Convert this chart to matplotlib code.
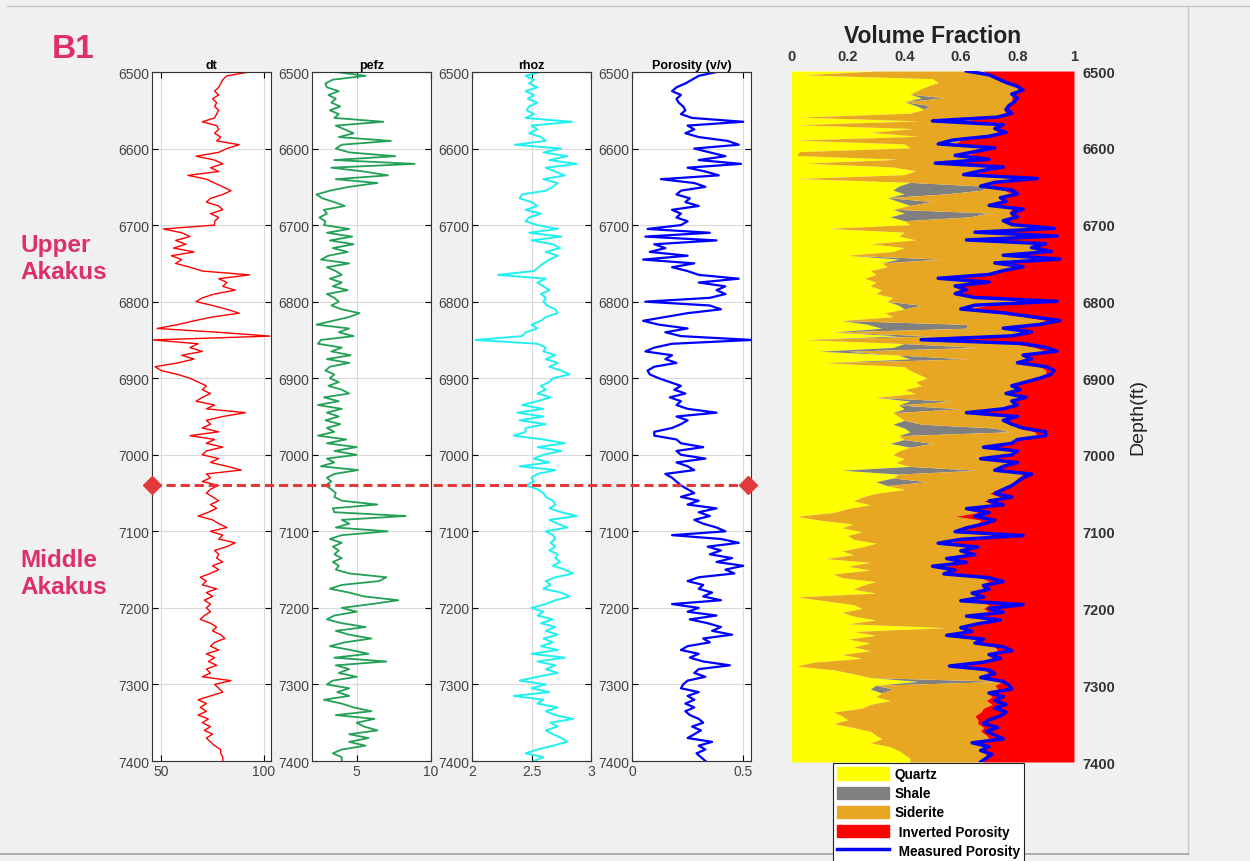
import numpy as np
import matplotlib.pyplot as plt
from matplotlib.lines import Line2D
from matplotlib.patches import Patch

plt.rcParams['font.family'] = ['Liberation Sans', 'DejaVu Sans']

# depth samples (ft), 5 ft step
depth = np.arange(6500, 7401, 5)

dt = [93, 82, 80, 79, 78, 76, 78, 75, 77, 76,
      78, 77, 76, 70, 77, 78, 76, 79, 77, 88,
      82, 78, 67, 76, 80, 74, 78, 63, 72, 76,
      80, 84, 80, 74, 72, 78, 80, 74, 78, 76,
      76, 51, 60, 64, 57, 62, 56, 66, 55, 60,
      57, 64, 70, 93, 78, 82, 80, 86, 76, 70,
      67, 75, 82, 88, 75, 66, 58, 48, 78, 103,
      46, 68, 64, 70, 60, 66, 58, 47, 50, 58,
      64, 68, 72, 70, 74, 70, 67, 76, 72, 91,
      80, 72, 74, 70, 78, 64, 76, 72, 80, 72,
      70, 78, 74, 82, 89, 72, 74, 70, 78, 74,
      72, 75, 78, 74, 77, 73, 68, 75, 78, 82,
      74, 80, 78, 86, 82, 76, 78, 77, 80, 75,
      78, 74, 69, 72, 70, 77, 72, 75, 71, 74,
      72, 74, 71, 69, 74, 77, 75, 79, 81, 76,
      74, 78, 72, 76, 73, 77, 72, 74, 70, 84,
      76, 78, 80, 74, 68, 72, 69, 72, 68, 73,
      70, 74, 71, 75, 72, 74, 76, 79, 79, 80,
      80]

pefz = [3.6, 5.6, 3.4, 2.9, 3.0, 3.8, 3.1, 3.6, 3.3, 3.9,
        3.2, 3.8, 3.5, 6.8, 3.6, 4.2, 4.8, 3.8, 7.3, 4.0,
        3.6, 4.5, 7.6, 3.5, 8.9, 3.3, 5.5, 7.1, 3.6, 6.4,
        4.5, 3.2, 2.3, 2.7, 3.5, 4.2, 2.8, 3.0, 2.5, 2.9,
        2.8, 4.5, 3.0, 4.7, 3.2, 4.8, 3.4, 4.4, 3.1, 2.6,
        4.5, 3.0, 3.6, 4.0, 3.2, 4.0, 3.4, 4.4, 3.0, 3.5,
        3.8, 3.3, 4.0, 5.2, 4.5, 3.4, 2.3, 4.5, 3.8, 4.8,
        2.6, 2.4, 4.0, 3.3, 4.6, 3.0, 4.5, 3.2, 2.9, 3.5,
        3.2, 3.8, 3.1, 4.0, 4.5, 2.8, 3.8, 2.4, 4.0, 3.0,
        3.8, 2.9, 3.9, 3.0, 3.5, 2.4, 4.3, 3.0, 5.0, 3.5,
        5.0, 3.0, 3.5, 2.6, 5.1, 3.5, 3.0, 3.3, 2.9, 3.3,
        3.6, 3.5, 4.0, 6.4, 3.4, 3.5, 8.3, 4.0, 4.5, 3.6,
        7.1, 4.0, 3.2, 4.0, 3.4, 3.8, 3.5, 4.0, 3.4, 3.8,
        3.6, 4.5, 7.0, 6.5, 4.0, 3.2, 4.5, 5.5, 7.8, 6.0,
        4.0, 5.0, 3.5, 3.0, 4.0, 5.6, 3.6, 4.5, 6.0, 4.2,
        3.2, 4.6, 5.8, 3.5, 7.0, 3.6, 4.5, 3.8, 5.0, 3.4,
        3.0, 4.5, 3.7, 4.5, 2.8, 4.0, 4.8, 6.0, 3.6, 6.2,
        5.0, 5.5, 6.4, 4.5, 5.8, 4.5, 5.6, 4.0, 3.4, 4.0,
        4.0]

rhoz = [2.57, 2.45, 2.52, 2.48, 2.55, 2.45, 2.52, 2.47, 2.55, 2.48,
        2.46, 2.52, 2.45, 2.84, 2.50, 2.55, 2.48, 2.58, 2.62, 2.36,
        2.75, 2.60, 2.80, 2.65, 2.88, 2.62, 2.70, 2.78, 2.60, 2.72,
        2.68, 2.62, 2.42, 2.40, 2.50, 2.55, 2.45, 2.58, 2.48, 2.45,
        2.55, 2.72, 2.48, 2.75, 2.50, 2.68, 2.74, 2.62, 2.72, 2.65,
        2.60, 2.56, 2.52, 2.22, 2.62, 2.55, 2.60, 2.65, 2.58, 2.62,
        2.60, 2.63, 2.70, 2.72, 2.62, 2.58, 2.50, 2.55, 2.45, 2.42,
        2.03, 2.55, 2.62, 2.60, 2.70, 2.62, 2.72, 2.65, 2.75, 2.82,
        2.68, 2.65, 2.58, 2.62, 2.55, 2.66, 2.55, 2.42, 2.60, 2.38,
        2.60, 2.40, 2.62, 2.45, 2.45, 2.35, 2.60, 2.78, 2.55, 2.75,
        2.60, 2.52, 2.65, 2.40, 2.70, 2.55, 2.50, 2.52, 2.45, 2.55,
        2.60, 2.62, 2.68, 2.70, 2.65, 2.75, 2.88, 2.65, 2.72, 2.80,
        2.62, 2.68, 2.70, 2.66, 2.70, 2.65, 2.72, 2.70, 2.74, 2.68,
        2.78, 2.85, 2.70, 2.62, 2.66, 2.60, 2.75, 2.82, 2.70, 2.62,
        2.50, 2.60, 2.55, 2.68, 2.58, 2.70, 2.62, 2.72, 2.60, 2.68,
        2.58, 2.72, 2.50, 2.78, 2.55, 2.70, 2.62, 2.72, 2.55, 2.40,
        2.62, 2.50, 2.65, 2.35, 2.60, 2.55, 2.72, 2.62, 2.70, 2.85,
        2.66, 2.72, 2.62, 2.68, 2.75, 2.80, 2.68, 2.55, 2.45, 2.60,
        2.52]

porosity = [0.38, 0.30, 0.27, 0.24, 0.20, 0.18, 0.22, 0.20, 0.21, 0.23,
            0.24, 0.22, 0.27, 0.50, 0.25, 0.28, 0.24, 0.30, 0.43, 0.48,
            0.28, 0.35, 0.42, 0.30, 0.49, 0.25, 0.33, 0.39, 0.13, 0.28,
            0.33, 0.22, 0.20, 0.26, 0.24, 0.30, 0.18, 0.22, 0.20, 0.25,
            0.22, 0.07, 0.35, 0.06, 0.38, 0.10, 0.15, 0.08, 0.25, 0.05,
            0.28, 0.18, 0.25, 0.30, 0.48, 0.30, 0.42, 0.38, 0.42, 0.35,
            0.06, 0.35, 0.40, 0.25, 0.15, 0.05, 0.12, 0.25, 0.15, 0.22,
            0.54, 0.18, 0.10, 0.06, 0.18, 0.15, 0.20, 0.10, 0.07, 0.08,
            0.12, 0.17, 0.22, 0.19, 0.24, 0.17, 0.22, 0.20, 0.25, 0.38,
            0.20, 0.25, 0.22, 0.18, 0.10, 0.10, 0.20, 0.22, 0.32, 0.20,
            0.22, 0.33, 0.20, 0.25, 0.28, 0.15, 0.18, 0.20, 0.22, 0.25,
            0.28, 0.22, 0.30, 0.25, 0.38, 0.30, 0.35, 0.28, 0.32, 0.38,
            0.42, 0.18, 0.40, 0.48, 0.34, 0.40, 0.35, 0.45, 0.38, 0.50,
            0.42, 0.46, 0.30, 0.25, 0.32, 0.30, 0.36, 0.32, 0.40, 0.18,
            0.30, 0.25, 0.38, 0.26, 0.34, 0.40, 0.36, 0.45, 0.32, 0.35,
            0.25, 0.22, 0.30, 0.26, 0.32, 0.44, 0.30, 0.28, 0.33, 0.25,
            0.23, 0.22, 0.30, 0.25, 0.28, 0.24, 0.28, 0.24, 0.26, 0.30,
            0.32, 0.27, 0.31, 0.28, 0.25, 0.36, 0.30, 0.33, 0.29, 0.31,
            0.33]

# mineral volume fractions (inverted)
quartz = [0.30, 0.04, 0.50, 0.52, 0.48, 0.45, 0.42, 0.46, 0.40, 0.44,
          0.47, 0.42, 0.03, 0.45, 0.02, 0.43, 0.28, 0.45, 0.02, 0.40,
          0.42, 0.03, 0.02, 0.38, 0.05, 0.36, 0.44, 0.40, 0.02, 0.42,
          0.38, 0.36, 0.40, 0.34, 0.38, 0.42, 0.36, 0.40, 0.35, 0.40,
          0.42, 0.13, 0.40, 0.38, 0.44, 0.28, 0.40, 0.36, 0.20, 0.38,
          0.32, 0.34, 0.28, 0.30, 0.26, 0.30, 0.28, 0.32, 0.30, 0.36,
          0.34, 0.38, 0.40, 0.33, 0.36, 0.18, 0.27, 0.32, 0.15, 0.38,
          0.05, 0.40, 0.36, 0.10, 0.38, 0.42, 0.12, 0.40, 0.42, 0.45,
          0.48, 0.44, 0.46, 0.40, 0.44, 0.30, 0.42, 0.38, 0.40, 0.36,
          0.38, 0.40, 0.36, 0.40, 0.42, 0.38, 0.40, 0.35, 0.42, 0.38,
          0.36, 0.40, 0.37, 0.42, 0.18, 0.38, 0.36, 0.30, 0.34, 0.40,
          0.30, 0.25, 0.22, 0.28, 0.20, 0.15, 0.02, 0.10, 0.22, 0.18,
          0.25, 0.20, 0.22, 0.30, 0.25, 0.18, 0.22, 0.12, 0.28, 0.20,
          0.28, 0.15, 0.18, 0.30, 0.25, 0.22, 0.30, 0.02, 0.12, 0.22,
          0.25, 0.18, 0.22, 0.30, 0.20, 0.55, 0.22, 0.30, 0.20, 0.28,
          0.22, 0.28, 0.18, 0.25, 0.08, 0.02, 0.15, 0.22, 0.28, 0.45,
          0.30, 0.28, 0.32, 0.30, 0.35, 0.28, 0.25, 0.15, 0.18, 0.20,
          0.15, 0.22, 0.28, 0.30, 0.32, 0.28, 0.35, 0.38, 0.40, 0.42,
          0.42]

shale = [0, 0, 0, 0, 0, 0, 0, 0.08, 0, 0.05,
         0, 0, 0, 0, 0, 0, 0, 0, 0, 0,
         0, 0, 0, 0, 0, 0, 0, 0, 0, 0,
         0.30, 0.32, 0.15, 0, 0.12, 0, 0, 0.30, 0.28, 0,
         0, 0, 0, 0, 0, 0, 0, 0, 0, 0.15,
         0, 0, 0, 0, 0, 0, 0, 0, 0, 0,
         0, 0.08, 0, 0, 0, 0, 0.35, 0.30, 0, 0.12,
         0, 0, 0.30, 0.10, 0, 0.20, 0, 0, 0, 0,
         0, 0, 0, 0, 0, 0, 0.15, 0, 0.20, 0,
         0, 0, 0.10, 0.32, 0.35, 0, 0, 0.15, 0, 0,
         0, 0, 0, 0, 0.48, 0, 0, 0.18, 0, 0,
         0, 0, 0, 0, 0, 0, 0, 0, 0, 0,
         0, 0, 0, 0, 0, 0, 0, 0, 0, 0,
         0, 0, 0, 0, 0, 0, 0, 0, 0, 0,
         0, 0, 0, 0, 0, 0, 0, 0, 0, 0,
         0, 0, 0, 0, 0, 0, 0, 0, 0, 0.30,
         0, 0.08, 0, 0, 0, 0, 0, 0, 0, 0,
         0, 0, 0, 0, 0, 0, 0, 0, 0, 0,
         0]

inv_porosity = [0.32, 0.30, 0.27, 0.22, 0.20, 0.20, 0.22, 0.22, 0.22, 0.24,
                0.25, 0.24, 0.27, 0.40, 0.26, 0.28, 0.27, 0.32, 0.40, 0.42,
                0.30, 0.34, 0.38, 0.32, 0.42, 0.28, 0.32, 0.36, 0.20, 0.28,
                0.30, 0.25, 0.22, 0.25, 0.25, 0.28, 0.22, 0.23, 0.22, 0.24,
                0.22, 0.10, 0.30, 0.10, 0.32, 0.12, 0.16, 0.10, 0.22, 0.06,
                0.26, 0.20, 0.26, 0.30, 0.42, 0.32, 0.40, 0.38, 0.40, 0.35,
                0.12, 0.30, 0.38, 0.27, 0.18, 0.10, 0.15, 0.25, 0.18, 0.24,
                0.46, 0.22, 0.14, 0.10, 0.18, 0.17, 0.20, 0.12, 0.10, 0.10,
                0.14, 0.18, 0.22, 0.20, 0.24, 0.19, 0.22, 0.21, 0.25, 0.34,
                0.22, 0.25, 0.22, 0.20, 0.14, 0.13, 0.20, 0.22, 0.30, 0.21,
                0.22, 0.30, 0.22, 0.25, 0.27, 0.18, 0.20, 0.21, 0.23, 0.26,
                0.30, 0.26, 0.32, 0.28, 0.38, 0.34, 0.42, 0.33, 0.34, 0.38,
                0.40, 0.25, 0.40, 0.44, 0.36, 0.40, 0.37, 0.43, 0.38, 0.46,
                0.42, 0.44, 0.33, 0.30, 0.33, 0.32, 0.36, 0.34, 0.38, 0.30,
                0.32, 0.30, 0.36, 0.30, 0.34, 0.38, 0.36, 0.42, 0.33, 0.35,
                0.28, 0.27, 0.31, 0.29, 0.32, 0.40, 0.32, 0.30, 0.33, 0.28,
                0.28, 0.27, 0.31, 0.29, 0.31, 0.29, 0.32, 0.33, 0.35, 0.34,
                0.34, 0.32, 0.33, 0.31, 0.30, 0.34, 0.32, 0.33, 0.31, 0.32,
                0.32]

depth_ticks = list(range(6500, 7401, 100))
boundary_depth = 7040

W, H = 1250, 862
fig = plt.figure(figsize=(W / 100, H / 100), dpi=100, facecolor='#f0f0f0')

tracks = [
    (dt, 'dt', '#ff0000', 1.0, (45.5, 103.5), [50, 100], ['50', '100'], 152),
    (pefz, 'pefz', '#22a055', 1.3, (2, 10), [5, 10], ['5', '10'], 312),
    (rhoz, 'rhoz', '#22f0f0', 1.4, (2, 3), [2, 2.5, 3], ['2', '2.5', '3'], 472),
    (porosity, 'Porosity (v/v)', '#0000ff', 1.6, (0, 0.535), [0, 0.5], ['0', '0.5'], 632),
]

for vals, name, col, lw, xl, xt, xtl, left in tracks:
    ax = fig.add_axes([left / W, 1 - 762 / H, 119 / W, 689 / H])
    ax.plot(vals, depth, color=col, lw=lw)
    ax.set_xlim(*xl)
    ax.set_ylim(7400, 6500)
    ax.set_xticks(xt)
    ax.set_xticklabels(xtl)
    ax.set_yticks(depth_ticks)
    ax.grid(color='#dadada', lw=0.8)
    ax.set_axisbelow(True)
    ax.tick_params(direction='in', top=True, right=True, length=4, width=0.8,
                   labelsize=10, labelcolor='#444444', pad=2)
    for s in ax.spines.values():
        s.set_color('#333333')
        s.set_linewidth(0.8)
    ax.set_title(name, fontsize=9, fontweight='bold', pad=3)

# volume fraction track
axv = fig.add_axes([791 / W, 1 - 763 / H, 283 / W, 691 / H])
q = np.array(quartz)
sh = np.array(shale)
inv = np.array(inv_porosity)
b1 = q
b2 = q + sh
b3 = np.maximum(b2, 1 - inv)
axv.fill_betweenx(depth, 0, b1, color='#ffff00', lw=0)
axv.fill_betweenx(depth, b1, b2, color='#808080', lw=0)
axv.fill_betweenx(depth, b2, b3, color='#e8a723', lw=0)
axv.fill_betweenx(depth, b3, 1, color='#ff0000', lw=0)
axv.plot(1 - np.array(porosity), depth, color='#0000ff', lw=2.5)
axv.set_xlim(0, 1)
axv.set_ylim(7400, 6500)
axv.xaxis.tick_top()
axv.yaxis.tick_right()
axv.set_xticks([0, 0.2, 0.4, 0.6, 0.8, 1])
axv.set_xticklabels(['0', '0.2', '0.4', '0.6', '0.8', '1'])
axv.set_yticks(depth_ticks)
axv.tick_params(length=0, labelsize=10.5, labelcolor='#333333', pad=6)
for lab in axv.get_xticklabels() + axv.get_yticklabels():
    lab.set_fontweight('bold')
for s in axv.spines.values():
    s.set_visible(False)
axv.set_title('Volume Fraction', fontsize=16.5, fontweight='bold', color='#222222', pad=21)
axv.yaxis.set_label_position('right')
axv.set_ylabel('Depth(ft)', fontsize=14, color='#222222', labelpad=10)

handles = [Patch(color='#ffff00', label='Quartz'),
           Patch(color='#808080', label='Shale'),
           Patch(color='#e8a723', label='Siderite'),
           Patch(color='#ff0000', label=' Inverted Porosity'),
           Line2D([], [], color='#0000ff', lw=2.5, label=' Measured Porosity')]
leg = fig.legend(handles=handles, loc='upper left', bbox_to_anchor=(833 / W, 1 - 764 / H),
                 prop={'size': 9.8, 'weight': 'bold'}, frameon=True, fancybox=False,
                 edgecolor='#222222', framealpha=1, handlelength=3.8, handleheight=1.0,
                 labelspacing=0.38, borderpad=0.3, handletextpad=0.45, borderaxespad=0)
leg.get_frame().set_linewidth(0.8)

# zone boundary
yb = 1 - (73 + (boundary_depth - 6500) * 689 / 900) / H
fig.add_artist(Line2D([152 / W, 748 / W], [yb, yb], transform=fig.transFigure,
                      color='#e23a3a', lw=2.2, ls=(0, (3, 1.6)), marker='D',
                      markersize=9, markerfacecolor='#e23a3a', markeredgecolor='#e23a3a'))

# labels
pink = '#dd2f68'
fig.text(52 / W, 1 - 50 / H, 'B1', color=pink, fontsize=24, fontweight='bold', va='center')
fig.text(20 / W, 1 - 259 / H, 'Upper\nAkakus', color=pink, fontsize=17.5, fontweight='bold',
         va='center', linespacing=1.2)
fig.text(20 / W, 1 - 574 / H, 'Middle\nAkakus', color=pink, fontsize=17.5, fontweight='bold',
         va='center', linespacing=1.2)

# window frame
fig.add_artist(Line2D([7 / W, 1], [1 - 7 / H] * 2, transform=fig.transFigure, color='#c8c8c8', lw=1))
fig.add_artist(Line2D([1188 / W] * 2, [1 - 7 / H, 1 - 855 / H], transform=fig.transFigure, color='#c8c8c8', lw=1))
fig.add_artist(Line2D([0, 1188 / W], [1 - 855 / H] * 2, transform=fig.transFigure, color='#a0a0a0', lw=1.2))

fig.savefig('out.png', dpi=100, facecolor=fig.get_facecolor())
